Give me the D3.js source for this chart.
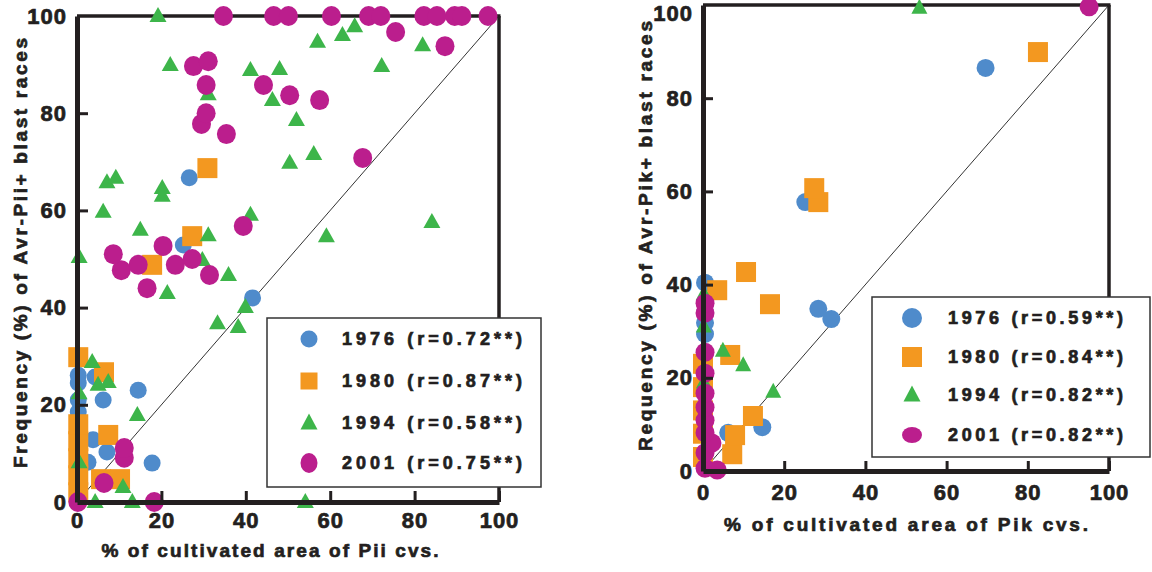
<!DOCTYPE html>
<html><head><meta charset="utf-8">
<script src="https://cdn.jsdelivr.net/npm/d3@7"></script>
<style>
body{margin:0;background:#fff}
svg{display:block}
text{font-family:"Liberation Sans",Arial,Helvetica,sans-serif;font-weight:bold;fill:#231f20;stroke:#231f20;stroke-width:0.7px;paint-order:stroke}
</style>
</head><body>
<svg id="chart" width="1152" height="572"></svg>
<script>
// ---------- DATA ----------
const tickValues = [0, 20, 40, 60, 80, 100];
const years = ["1976", "1980", "1994", "2001"];
const seriesColors = ["#4f8bcb", "#f39820", "#3db54a", "#bb1e8d"];
const seriesShapes = ["circle", "square", "triangle", "ellipse"];

// Left panel: Pii  (x = % cultivated area of Pii cvs., y = frequency of Avr-Pii+ races)
const pii1976 = [[0.3,6.6],[2.6,8.2],[17.8,8.0],[7.1,10.3],[0.3,11.3],[3.8,12.8],[0.3,18.5],[0.3,21.0],[6.2,21.0],[14.5,23.0],[0.3,24.5],[0.3,26.1],[4.3,25.7],[41.6,42.0],[25.2,52.9],[26.6,66.7]];
const pii1980 = [[0.3,2],[0.3,5.5],[0.3,9],[0.3,12.5],[0.3,16],[5.7,4.7],[10.2,4.7],[7.4,13.8],[6.4,26.7],[0.3,29.8],[17.8,48.8],[27.3,54.7],[30.9,68.7]];
const pii1994 = [[4.3,0],[13.1,0],[54.1,0],[10.9,3.1],[0.5,8.2],[14.3,17.9],[0.5,22.4],[5.0,24.1],[7.4,24.7],[3.6,28.8],[38.2,36.0],[33.3,36.8],[39.9,40.1],[21.4,43.0],[35.9,46.7],[29.7,49.8],[0.5,50.4],[59.1,54.7],[31.1,54.9],[15.0,56.0],[84.1,57.6],[41.1,59.1],[6.2,59.7],[20.2,63.0],[20.2,64.6],[7.1,65.8],[9.2,66.7],[50.4,69.8],[56.1,71.6],[52.0,78.6],[46.3,82.7],[31.1,83.9],[41.1,88.9],[48.0,89.1],[72.2,89.7],[22.1,89.9],[81.9,94.0],[57.0,94.7],[62.9,96.1],[65.8,97.9],[19.2,100]];
const pii2001 = [[0.2,0],[18.3,0],[6.4,3.9],[11.2,9.1],[11.2,11.1],[16.6,44.0],[10.5,47.7],[14.5,48.8],[23.3,48.8],[31.4,46.7],[8.6,51.0],[27.3,50.0],[20.4,52.7],[39.4,56.8],[67.7,70.8],[35.4,75.7],[29.5,77.8],[30.6,80.0],[57.5,82.7],[50.4,83.7],[30.6,85.8],[44.2,85.8],[27.6,89.7],[31.1,90.7],[87.2,93.8],[75.5,96.7],[34.7,100],[46.6,100],[50.1,100],[60.3,100],[69.1,100],[72.0,100],[82.2,100],[85.3,100],[89.5,100],[91.2,100],[97.4,100]];
const piiLegend = ["1976 (r=0.72**)", "1980 (r=0.87**)", "1994 (r=0.58**)", "2001 (r=0.75**)"];

// Right panel: Pik
const pik1976 = [[0.5,40.4],[0.5,34.0],[0.5,31.8],[0.5,29.4],[6.2,8.2],[14.6,9.4],[25.2,57.7],[28.4,34.8],[31.6,32.6],[69.6,86.5]];
const pik1980 = [[0,3],[0,8],[0,13],[0,18],[0,23],[7.2,3.6],[7.9,7.7],[12.3,11.8],[6.7,24.9],[16.5,35.8],[3.5,38.8],[10.6,42.7],[28.4,57.7],[27.4,60.7],[82.5,89.9]];
const pik1994 = [[0.2,19],[0.2,31],[0.2,38],[17.3,17.0],[9.9,22.7],[4.9,25.8],[53.3,99.4]];
const pik2001 = [[0.5,0.6],[3.5,0.2],[0.5,3.9],[2.2,6.0],[0.5,8.2],[0.5,10.9],[0.5,13.7],[0.5,16.7],[0.5,21.0],[0.5,25.5],[0.5,33.9],[0.5,36.0],[95.1,99.6]];
const pikLegend = ["1976 (r=0.59**)", "1980 (r=0.84**)", "1994 (r=0.82**)", "2001 (r=0.82**)"];

// ---------- DRAW ----------
const svg = d3.select("#chart");

function drawMarker(g, shape, cx, cy, color, s) {
  if (shape === "circle") {
    g.append("circle").attr("cx", cx).attr("cy", cy).attr("r", s.r).attr("fill", color);
  } else if (shape === "ellipse") {
    g.append("ellipse").attr("cx", cx).attr("cy", cy).attr("rx", s.erx).attr("ry", s.ery).attr("fill", color);
  } else if (shape === "square") {
    g.append("rect").attr("x", cx - s.sq/2).attr("y", cy - s.sq/2).attr("width", s.sq).attr("height", s.sq).attr("fill", color);
  } else {
    const w = s.tw, h = s.th;
    g.append("path").attr("d", `M${cx},${cy - h*0.6}L${cx + w/2},${cy + h*0.4}L${cx - w/2},${cy + h*0.4}Z`).attr("fill", color);
  }
}

function panel(cfg) {
  const x = d3.scaleLinear().domain([0, 100]).range(cfg.xr);
  const y = d3.scaleLinear().domain([0, 100]).range(cfg.yr);
  const g = svg.append("g");

  // diagonal 1:1 line
  g.append("line").attr("x1", x(0)).attr("y1", y(0)).attr("x2", x(100)).attr("y2", y(100))
    .attr("stroke", "#333").attr("stroke-width", 1);

  // frame top & right
  g.append("line").attr("x1", x(0)).attr("x2", x(100) + 1.5).attr("y1", y(100)).attr("y2", y(100))
    .attr("stroke", "#231f20").attr("stroke-width", 3.5);
  g.append("line").attr("x1", x(100)).attr("x2", x(100)).attr("y1", y(100)).attr("y2", y(0))
    .attr("stroke", "#231f20").attr("stroke-width", 3.5);

  // points
  const pts = g.append("g");
  cfg.series.forEach((data, i) => {
    data.forEach(d => drawMarker(pts, seriesShapes[i], x(d[0]), y(d[1]), seriesColors[i], cfg.ms));
  });

  // axes
  const xa = g.append("g").attr("transform", `translate(0,${y(0)})`)
    .call(d3.axisBottom(x).tickValues(tickValues).tickSize(-cfg.tick).tickSizeOuter(0).tickPadding(cfg.xpad));
  const ya = g.append("g").attr("transform", `translate(${x(0)},0)`)
    .call(d3.axisLeft(y).tickValues(tickValues).tickSize(-cfg.tick).tickSizeOuter(0).tickPadding(cfg.ypad));
  [xa, ya].forEach(a => {
    a.select(".domain").attr("stroke", "#231f20").attr("stroke-width", 5);
    a.selectAll(".tick line").attr("stroke", "#231f20").attr("stroke-width", 3);
    a.selectAll(".tick text").attr("fill", "#231f20").style("font-size", "22px").style("letter-spacing", "1px")
      .style("font-family", '"Liberation Sans",Arial,sans-serif').style("font-weight", "bold");
  });
  ya.selectAll(".tick").filter(d => d === 0 || d === 100).select("line").remove();
  xa.selectAll(".tick").filter(d => d === 0).select("line").remove();
  if (cfg.topLabelShift) {
    ya.selectAll(".tick").filter(d => d === 100).select("text").attr("y", cfg.topLabelShift);
  }

  // titles
  g.append("text").attr("x", cfg.xt[0]).attr("y", cfg.xt[1]).attr("text-anchor", "middle")
    .attr("textLength", cfg.xt[2]).attr("lengthAdjust", "spacing")
    .style("font-size", "19px").text(cfg.xTitle);
  g.append("text").attr("transform", `translate(${cfg.yt[0]},${cfg.yt[1]}) rotate(-90)`).attr("text-anchor", "middle")
    .attr("textLength", cfg.yt[2]).attr("lengthAdjust", "spacing")
    .style("font-size", "19px").text(cfg.yTitle);

  // legend
  const L = cfg.legend;
  const lg = g.append("g");
  lg.append("rect").attr("x", L.x).attr("y", L.y).attr("width", L.w).attr("height", L.h)
    .attr("fill", "#fff").attr("stroke", "#333").attr("stroke-width", 1.5);
  cfg.legendText.forEach((t, i) => {
    const ry = L.rows[i];
    drawMarker(lg, seriesShapes[i], L.mx, ry, seriesColors[i], L.ms);
    lg.append("text").attr("x", L.tx).attr("y", ry).attr("dy", "0.36em")
      .attr("textLength", L.tl).attr("lengthAdjust", "spacing")
      .style("font-size", "18px").text(t);
  });
}

panel({
  xr: [77, 499], yr: [502, 16], tick: 11, xpad: 10, ypad: 10,
  series: [pii1976, pii1980, pii1994, pii2001],
  ms: {r: 8.5, erx: 9.5, ery: 10, sq: 20, tw: 17, th: 15},
  xTitle: "% of  cultivated area of Pii cvs.", xt: [270, 557, 337],
  yTitle: "Frequency (%) of Avr-Pii+ blast races", yt: [27, 253, 430],
  legendText: piiLegend,
  legend: {x: 267, y: 318, w: 274, h: 169, mx: 309, tx: 342, tl: 180, rows: [339, 381, 423, 463],
           ms: {r: 8.5, erx: 8.5, ery: 10, sq: 17, tw: 17, th: 16}}
});

panel({
  xr: [703, 1109], yr: [471, 5], tick: 10, xpad: 13, ypad: 10, topLabelShift: 8,
  series: [pik1976, pik1980, pik1994, pik2001],
  ms: {r: 9, erx: 9.5, ery: 9.5, sq: 20, tw: 16, th: 15},
  xTitle: "% of cultivated area of Pik cvs.", xt: [906, 531, 364],
  yTitle: "Requency (%) of Avr-Pik+ blast races", yt: [652, 236, 430],
  legendText: pikLegend,
  legend: {x: 872, y: 297, w: 278, h: 160, mx: 912, tx: 948, tl: 175, rows: [318, 357, 395, 435],
           ms: {r: 10, erx: 10, ery: 8, sq: 20, tw: 17, th: 16}}
});
</script>
</body></html>
